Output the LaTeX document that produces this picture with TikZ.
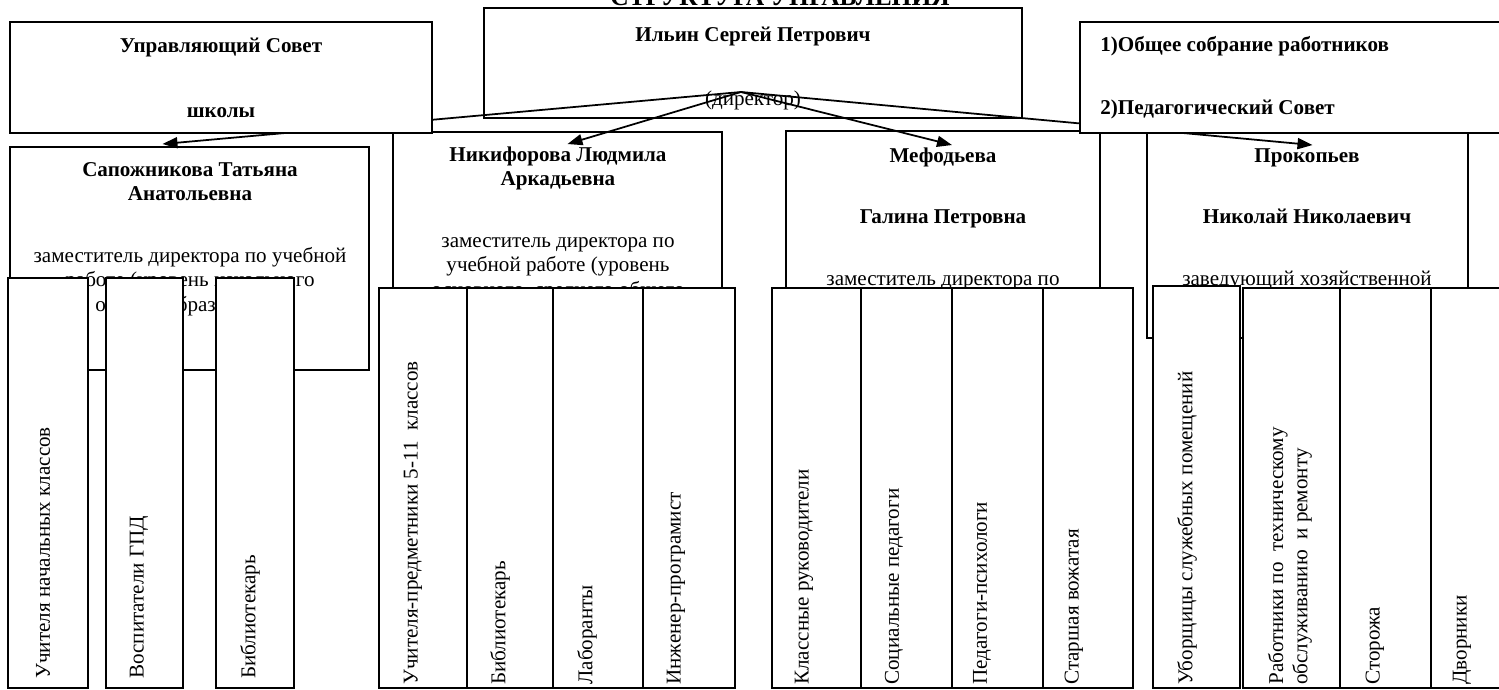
\documentclass[tikz,border=0pt]{standalone}
\usepackage{fontspec}
\setmainfont{Liberation Serif}
\usetikzlibrary{arrows.meta}
\usetikzlibrary{calc}
\usetikzlibrary{fit}
\tikzset{
  > = {Triangle[length = 0.3cm, width = 0.22cm]},
  box/.style = {rectangle,
                draw,
                fill = white,
                line width = 1.1pt,
                inner sep = 0pt},
  head/.style = {font = \fontsize{12}{13.8}\selectfont,
                 align = center,
                 anchor = base,
                 inner sep = 0pt},
  staff/.style = {font = \fontsize{12}{13.8}\selectfont,
                  rotate = 90,
                  anchor = west,
                  align = left,
                  inner sep = 0pt},
  link/.style = {->, line width = 1pt}
}

\begin{document}
\begin{tikzpicture}[x = 0.02cm, y = -0.02cm]
\useasboundingbox (0,0) rectangle (1499,690);

\node (title) [font = \fontsize{14.5}{16}\selectfont\bfseries, anchor = base] at (780,5) {СТРУКТУРА УПРАВЛЕНИЯ};

% director
\node (director) [box, fit = {(484,8) (1022,118)}] {};
\node (dir-name) [head] at (753,41) {\textbf{Ильин Сергей Петрович}};
\node (dir-role) [head] at (753,105) {(директор)};
\coordinate (dir-top) at (741,92);

% deputies (base = last line)
\node (sap) [box, fit = {(10,147) (369,370)}] {};
\node (sap-txt) [head] at (190,311) {\textbf{Сапожникова Татьяна}\\\textbf{Анатольевна}\\[0.75cm]
  заместитель директора по учебной\\работе (уровень начального\\общего образования)};

\node (nik) [box, fit = {(393,132) (722,350)}] {};
\node (nik-txt) [head] at (558,296) {\textbf{Никифорова Людмила}\\\textbf{Аркадьевна}\\[0.75cm]
  заместитель директора по\\учебной работе (уровень\\основного, среднего общего};

\node (meth) [box, fit = {(786,131) (1100,350)}] {};
\node (meth-txt) [head] at (943,285) {\textbf{Мефодьева}\\[0.73cm]\textbf{Галина Петровна}\\[0.75cm]
  заместитель директора по};

\node (prok) [box, fit = {(1147,131) (1468,338)}] {};
\node (prok-txt) [head] at (1307,285) {\textbf{Прокопьев}\\[0.73cm]\textbf{Николай Николаевич}\\[0.75cm]
  заведующий хозяйственной};

\draw[link] (dir-top) -- ($(sap.north)+(-27,-2)$);
\draw[link] (dir-top) -- ($(nik.north)+(10,13)$);
\draw[link] (dir-top) -- ($(meth.north)+(9,15)$);
\draw[link] (dir-top) -- ($(prok.north)+(5,15)$);

% councils
\node (council) [box, fit = {(10,22) (432,133)}] {};
\node (council-txt) [head] at (221,117) {\textbf{Управляющий Совет}\\[0.81cm]\textbf{школы}};

\node (meetings) [box, fit = {(1080,22) (1520,133)}] {};
\node (meetings-txt) [head, align = left, anchor = base west] at (1100,114)
  {\textbf{1)Общее собрание работников}\\[0.77cm]\textbf{2)Педагогический Совет}};

% staff
\node (prim) [box, fit = {(8,278) (88,688)}] {};
\node (prim-txt) [staff] at (43,679) {Учителя начальных классов};
\node (gpd) [box, fit = {(106,278) (183,688)}] {};
\node (gpd-txt) [staff] at (139,679) {Воспитатели ГПД};
\node (lib-a) [box, fit = {(216,278) (294,688)}] {};
\node (lib-a-txt) [staff] at (250,679) {Библиотекарь};

\node (subj) [box, fit = {(379,288) (467,688)}] {};
\node (subj-txt) [staff] at (413,685) {Учителя-предметники 5-11\ \ классов};
\node (lib-b) [box, fit = {(467,288) (553,688)}] {};
\node (lib-b-txt) [staff] at (500,685) {Библиотекарь};
\node (lab) [box, fit = {(553,288) (643,688)}] {};
\node (lab-txt) [staff] at (587,685) {Лаборанты};
\node (eng) [box, fit = {(643,288) (735,688)}] {};
\node (eng-txt) [staff] at (676,685) {Инженер-програмист};

\node (cls) [box, fit = {(772,288) (861,688)}] {};
\node (cls-txt) [staff] at (804,685) {Классные руководители};
\node (soc) [box, fit = {(861,288) (952,688)}] {};
\node (soc-txt) [staff] at (894,685) {Социальные педагоги};
\node (psy) [box, fit = {(952,288) (1043,688)}] {};
\node (psy-txt) [staff] at (982,685) {Педагоги-психологи};
\node (lead) [box, fit = {(1043,288) (1133,688)}] {};
\node (lead-txt) [staff] at (1074,685) {Старшая вожатая};

\node (clean) [box, fit = {(1153,286) (1240,688)}] {};
\node (clean-txt) [staff] at (1187,685) {Уборщицы служебных помещений};
\node (repair) [box, fit = {(1243,288) (1340,688)}] {};
\node (repair-txt) [staff] at (1290,685) {Работники по\ \ техническому\\обслуживанию\ \ и ремонту};
\node (guard) [box, fit = {(1340,288) (1431,688)}] {};
\node (guard-txt) [staff] at (1375,685) {Сторожа};
\node (yard) [box, fit = {(1431,288) (1520,688)}] {};
\node (yard-txt) [staff] at (1462,685) {Дворники};

\end{tikzpicture}
\end{document}
